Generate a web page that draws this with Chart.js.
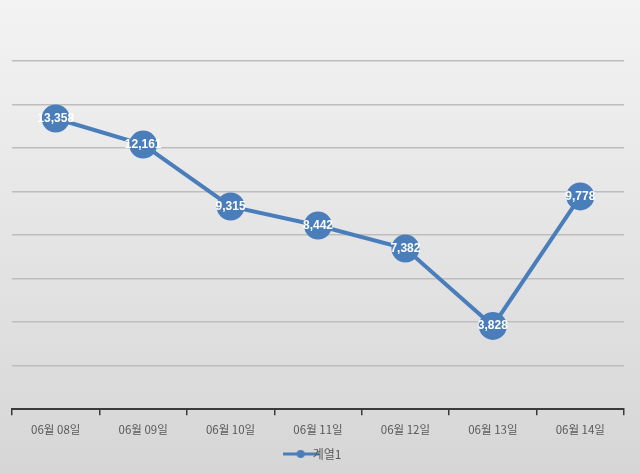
<!DOCTYPE html>
<html><head><meta charset="utf-8">
<script src="https://cdn.jsdelivr.net/npm/chart.js@4"></script>
<style>html,body{margin:0;padding:0;background:#e6e6e6;}#wrap{width:640px;height:473px;position:relative;}</style>
</head><body><div id="wrap"><canvas id="c" width="640" height="473"></canvas></div>
<script>
const categories = ['06월 08일','06월 09일','06월 10일','06월 11일','06월 12일','06월 13일','06월 14일'];
const seriesName = '계열1';
const values = [13358, 12161, 9315, 8442, 7382, 3828, 9778];
const yMin = 0, yMax = 16000, yStep = 2000;

const blue = '#4A7EBB';
const font = "'Noto Sans CJK KR', 'Noto Sans', sans-serif";

const bgPlugin = {
  id: 'bg',
  beforeDraw(chart) {
    const ctx = chart.ctx;
    const g = ctx.createLinearGradient(0, 0, 0, chart.height);
    g.addColorStop(0, '#f3f3f3');
    g.addColorStop(1, '#d6d6d6');
    ctx.save();
    ctx.fillStyle = g;
    ctx.fillRect(0, 0, chart.width, chart.height);
    ctx.restore();
  }
};

const labelPlugin = {
  id: 'dl',
  afterDatasetsDraw(chart) {
    const ctx = chart.ctx;
    const meta = chart.getDatasetMeta(0);
    ctx.save();
    ctx.font = "bold 12px 'Liberation Sans', 'Noto Sans', sans-serif";
    ctx.fillStyle = '#ffffff';
    ctx.textAlign = 'center';
    ctx.textBaseline = 'middle';
    meta.data.forEach((pt, i) => {
      ctx.fillText(values[i].toLocaleString('en-US'), pt.x, pt.y);
    });
    ctx.restore();
  }
};

const legendIcon = document.createElement('canvas');
legendIcon.width = 36; legendIcon.height = 10;
(function(){
  const c = legendIcon.getContext('2d');
  c.strokeStyle = blue; c.lineWidth = 3;
  c.beginPath(); c.moveTo(0,5); c.lineTo(36,5); c.stroke();
  c.fillStyle = blue; c.beginPath(); c.arc(18,5,4,0,Math.PI*2); c.fill();
})();

new Chart(document.getElementById('c'), {
  type: 'line',
  data: {
    labels: categories,
    datasets: [{
      label: seriesName,
      data: values,
      borderColor: blue,
      backgroundColor: blue,
      borderWidth: 4,
      pointRadius: 12,
      pointHoverRadius: 12,
      pointBackgroundColor: blue,
      pointBorderColor: blue,
      tension: 0,
      clip: false
    }]
  },
  options: {
    responsive: false,
    animation: false,
    devicePixelRatio: 1,
    layout: { autoPadding: false, padding: { left: 12, right: 16, top: 61, bottom: 3 } },
    plugins: {
      legend: {
        position: 'bottom',
        labels: {
          usePointStyle: true,
          pointStyle: legendIcon,
          color: '#595959',
          font: { family: font, size: 12 },
          padding: 3
        }
      },
      tooltip: { enabled: false }
    },
    scales: {
      x: {
        offset: true,
        afterFit: s => { s.paddingLeft = 0; s.paddingRight = 0; },
        grid: { offset: true, drawOnChartArea: false, drawTicks: true, tickLength: 6, color: '#3a3a3a', lineWidth: 1.5 },
        border: { display: true, color: '#3a3a3a', width: 2 },
        ticks: { color: '#595959', font: { family: font, size: 11.5 }, padding: 8, maxRotation: 0 }
      },
      y: {
        min: yMin, max: yMax,
        afterFit: s => { s.width = 0; },
        ticks: { display: false, stepSize: yStep },
        grid: { color: '#bdbdbd', lineWidth: 1.5, drawTicks: false },
        border: { display: false }
      }
    }
  },
  plugins: [bgPlugin, labelPlugin]
});
</script>
</body></html>
